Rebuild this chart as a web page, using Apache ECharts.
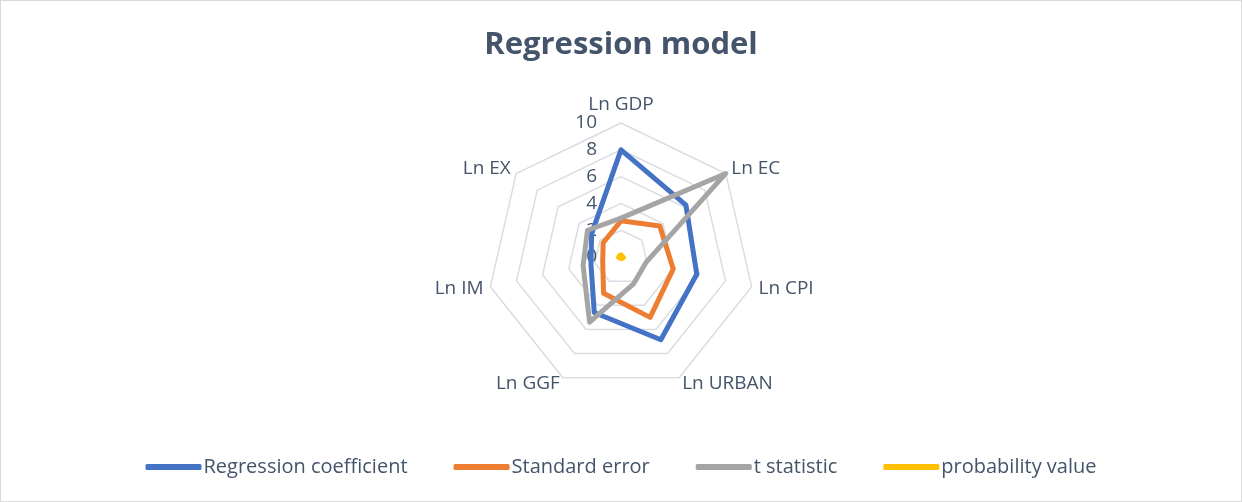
<!DOCTYPE html>
<html>
<head>
<meta charset="utf-8">
<script src="https://cdn.jsdelivr.net/npm/echarts@6/dist/echarts.min.js"></script>
<style>
  html, body { margin: 0; padding: 0; background: #fff; }
  #chart { width: 1242px; height: 502px; box-sizing: border-box; border: 1px solid #d9d9d9; }
</style>
</head>
<body>
<div id="chart"></div>
<script>
// chart data
var indicators = ['Ln GDP', 'Ln EC', 'Ln CPI', 'Ln URBAN', 'Ln GGF', 'Ln IM', 'Ln EX'];
var coefficient = [8.0, 6.2, 5.8, 6.85, 4.6, 2.3, 2.8];
var stdError = [2.7, 3.7, 4.0, 5.0, 3.0, 1.4, 1.7];
var tStat = [2.9, 10.0, 1.9, 2.2, 5.4, 2.9, 3.2];
var probValue = [0.15, 0.1, 0.18, 0.12, 0.1, 0.18, 0.15];
var seriesNames = ['Regression coefficient', 'Standard error', 't statistic', 'probability value'];
var colors = ['#4472C4', '#ED7D31', '#A5A5A5', '#FFC000'];

// echarts places indicators counter-clockwise, excel goes clockwise
var order = [0];
for (var i = indicators.length - 1; i > 0; i--) order.push(i);
function reorder(arr) {
  return order.map(function (k) { return arr[k]; });
}

var textColor = '#44546a';
var font = 'Open Sans';

var myChart = echarts.init(document.getElementById('chart'));

var option = {
  color: colors,
  animation: false,
  title: {
    text: 'Regression model',
    left: 'center',
    top: 24,
    textStyle: { fontFamily: font, fontSize: 31, fontWeight: 'bold', color: textColor }
  },
  legend: {
    top: 451,
    left: 'center',
    icon: 'roundRect',
    itemWidth: 56,
    itemHeight: 6,
    itemGap: 46,
    data: seriesNames,
    textStyle: { fontFamily: font, fontSize: 20, color: textColor, padding: [0, 0, 0, -3] }
  },
  radar: {
    center: ['50%', 256],
    radius: 134,
    startAngle: 90,
    shape: 'polygon',
    splitNumber: 5,
    axisName: { fontFamily: font, fontSize: 19, color: textColor },
    nameGap: 7,
    axisLine: { show: false },
    axisTick: { show: false },
    splitArea: { show: false },
    splitLine: { lineStyle: { color: '#d9dde3', width: 1.5 } },
    axisLabel: { show: true, fontFamily: font, fontSize: 19, color: textColor, margin: 24 },
    indicator: reorder(indicators).map(function (name, idx) {
      return { name: name, min: 0, max: 10, axisLabel: { show: idx === 0 } };
    })
  },
  series: [{
    type: 'radar',
    symbol: 'none',
    lineStyle: { width: 5, join: 'round', cap: 'round' },
    data: [
      { name: seriesNames[0], value: reorder(coefficient), lineStyle: { color: colors[0] }, itemStyle: { color: colors[0] } },
      { name: seriesNames[1], value: reorder(stdError), lineStyle: { color: colors[1] }, itemStyle: { color: colors[1] } },
      { name: seriesNames[2], value: reorder(tStat), lineStyle: { color: colors[2] }, itemStyle: { color: colors[2] } },
      { name: seriesNames[3], value: reorder(probValue), lineStyle: { color: colors[3] }, itemStyle: { color: colors[3] } }
    ]
  }]
};
myChart.setOption(option);
</script>
</body>
</html>
